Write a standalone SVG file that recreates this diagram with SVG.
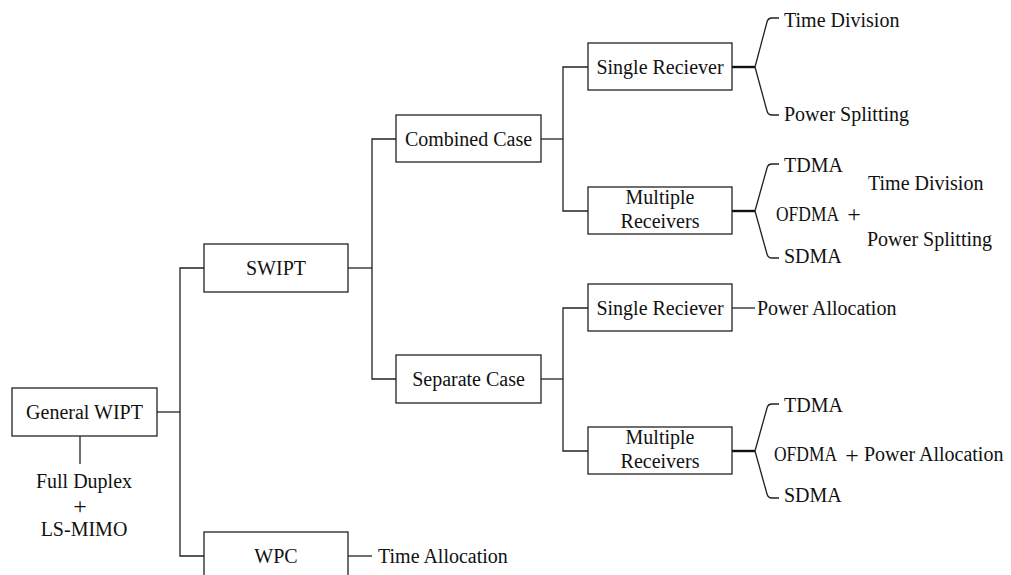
<svg xmlns="http://www.w3.org/2000/svg" width="1011" height="575" viewBox="0 0 1011 575">
<style>
  rect.box { fill: #ffffff; stroke: #222222; stroke-width: 1.3; }
  .ln { fill: none; stroke: #222222; stroke-width: 1.3; }
  .thick { fill: none; stroke: #111111; stroke-width: 2.4; }
  text { font-family: "Liberation Serif", "Times New Roman", serif; font-size: 20px; fill: #111111; }
  .c { text-anchor: middle; }
  .plus { font-size: 24px; }
</style>
<rect x="0" y="0" width="1011" height="575" fill="#ffffff"/>
<g id="connectors">
  <path class="ln" d="M157,412 H180"/>
  <path class="ln" d="M204,268 H180 V556 H204"/>
  <path class="ln" d="M80,436 V464"/>
  <path class="ln" d="M348,268 H372"/>
  <path class="ln" d="M396,139 H372 V379 H396"/>
  <path class="ln" d="M348,556 H372"/>
  <path class="ln" d="M541,139 H563"/>
  <path class="ln" d="M588,67 H563 V211 H588"/>
  <path class="ln" d="M541,379 H563"/>
  <path class="ln" d="M588,308 H563 V451 H588"/>
  <path class="thick" d="M732,67 H755"/>
  <path class="ln" d="M755,67 L767,22 Q768,18 772,18 H779"/>
  <path class="ln" d="M755,67 L767,111 Q768,115 772,115 H779"/>
  <path class="thick" d="M732,211 H755"/>
  <path class="ln" d="M755,211 L767,168 Q768,164 772,164 H779"/>
  <path class="ln" d="M755,211 L767,254 Q768,258 772,258 H779"/>
  <path class="ln" d="M732,308 H755"/>
  <path class="thick" d="M732,451 H755"/>
  <path class="ln" d="M755,451 L767,408 Q768,404 772,404 H779"/>
  <path class="ln" d="M755,451 L767,494 Q768,498 772,498 H779"/>
</g>
<g id="general-wipt">
  <rect class="box" x="12" y="388" width="145" height="48"/>
  <text class="c" x="84.5" y="419">General WIPT</text>
</g>
<g id="full-duplex-label">
  <text class="c" x="84" y="488">Full Duplex</text>
  <text class="c plus" x="80" y="514">+</text>
  <text class="c" x="84" y="536">LS-MIMO</text>
</g>
<g id="swipt">
  <rect class="box" x="204" y="244" width="144" height="48"/>
  <text class="c" x="276" y="275">SWIPT</text>
</g>
<g id="wpc">
  <rect class="box" x="204" y="532" width="144" height="50"/>
  <text class="c" x="276" y="563">WPC</text>
</g>
<g id="time-allocation">
  <text x="378" y="563">Time Allocation</text>
</g>
<g id="combined-case">
  <rect class="box" x="396" y="115" width="145" height="47"/>
  <text class="c" x="468.5" y="146">Combined Case</text>
</g>
<g id="separate-case">
  <rect class="box" x="396" y="355" width="145" height="48"/>
  <text class="c" x="468.5" y="386">Separate Case</text>
</g>
<g id="single-receiver-combined">
  <rect class="box" x="588" y="43" width="144" height="47"/>
  <text class="c" x="660" y="74">Single Reciever</text>
</g>
<g id="combined-single-options">
  <text x="784" y="27">Time Division</text>
  <text x="784" y="121">Power Splitting</text>
</g>
<g id="multiple-receivers-combined">
  <rect class="box" x="588" y="187" width="144" height="47"/>
  <text class="c" x="660" y="204">Multiple</text>
  <text class="c" x="660" y="228">Receivers</text>
</g>
<g id="combined-multiple-options">
  <text x="784" y="172">TDMA</text>
  <text x="776" y="221" textLength="63" lengthAdjust="spacingAndGlyphs">OFDMA</text>
  <text class="c plus" x="854" y="222">+</text>
  <text x="784" y="263">SDMA</text>
  <text x="868" y="190">Time Division</text>
  <text x="867" y="246">Power Splitting</text>
</g>
<g id="single-receiver-separate">
  <rect class="box" x="588" y="284" width="144" height="47"/>
  <text class="c" x="660" y="315">Single Reciever</text>
  <text x="757" y="315">Power Allocation</text>
</g>
<g id="multiple-receivers-separate">
  <rect class="box" x="588" y="427" width="144" height="47"/>
  <text class="c" x="660" y="444">Multiple</text>
  <text class="c" x="660" y="468">Receivers</text>
</g>
<g id="separate-multiple-options">
  <text x="784" y="412">TDMA</text>
  <text x="774" y="461" textLength="63" lengthAdjust="spacingAndGlyphs">OFDMA</text>
  <text class="c plus" x="852" y="463">+</text>
  <text x="864" y="461">Power Allocation</text>
  <text x="784" y="502">SDMA</text>
</g>
</svg>
